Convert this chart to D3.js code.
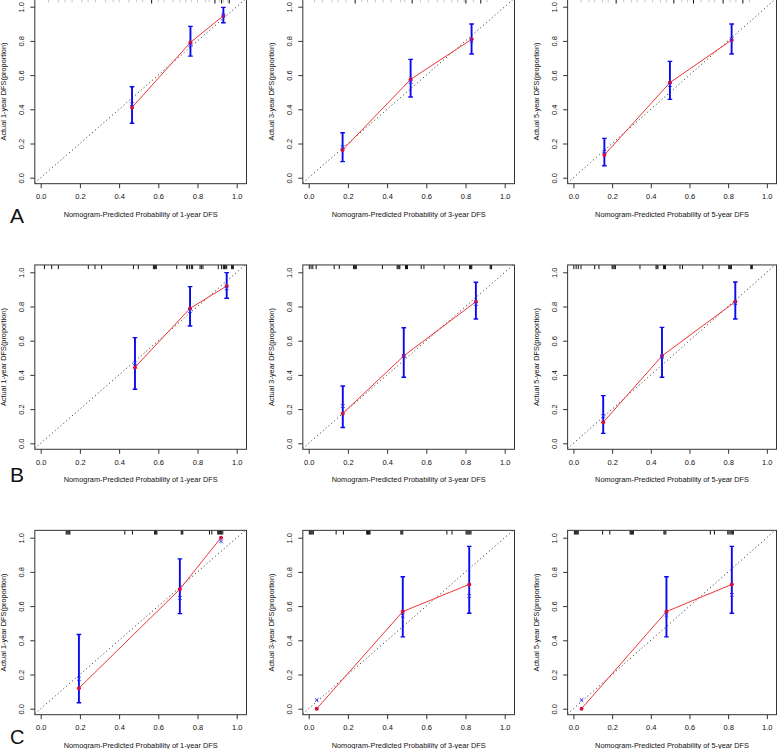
<!DOCTYPE html>
<html>
<head>
<meta charset="utf-8">
<script src="https://cdn.jsdelivr.net/npm/d3@7"></script>
<style>
body { margin: 0; background: #fff; }
svg text { font-family: "Liberation Sans", Arial, sans-serif; fill: #111; }
</style>
</head>
<body>
<div id="chart"></div>
<script>
var years = ["1", "3", "5"];
var rowLabels = ["A", "B", "C"];
var tickValues = [0, 0.2, 0.4, 0.6, 0.8, 1.0];

// predicted / observed (red) / bias-corrected (blue x) / CI
var predA1 = [0.466, 0.764, 0.932], obsA1 = [0.411, 0.791, 0.947], corA1 = [0.430, 0.776, 0.950],
    loA1 = [0.318, 0.711, 0.906], hiA1 = [0.532, 0.885, 0.996];
var predA2 = [0.173, 0.520, 0.831], obsA2 = [0.162, 0.575, 0.809], corA2 = [0.180, 0.560, 0.800],
    loA2 = [0.094, 0.472, 0.723], hiA2 = [0.263, 0.692, 0.899];
var predA3 = [0.160, 0.499, 0.818], obsA3 = [0.133, 0.556, 0.805], corA3 = [0.152, 0.542, 0.809],
    loA3 = [0.070, 0.458, 0.723], hiA3 = [0.230, 0.680, 0.899];
var predB1 = [0.481, 0.762, 0.949], obsB1 = [0.444, 0.789, 0.920], corB1 = [0.468, 0.774, 0.906],
    loB1 = [0.316, 0.686, 0.848], hiB1 = [0.618, 0.916, 0.998];
var predB2 = [0.174, 0.485, 0.853], obsB2 = [0.175, 0.511, 0.828], corB2 = [0.218, 0.511, 0.815],
    loB2 = [0.092, 0.386, 0.727], hiB2 = [0.335, 0.676, 0.942];
var predB3 = [0.154, 0.458, 0.837], obsB3 = [0.123, 0.511, 0.828], corB3 = [0.160, 0.507, 0.819],
    loB3 = [0.058, 0.386, 0.727], hiB3 = [0.279, 0.678, 0.943];
var predC1 = [0.195, 0.710, 0.920], obsC1 = [0.120, 0.699, 1.000], corC1 = [0.175, 0.648, 0.978],
    loC1 = [0.035, 0.556, null], hiC1 = [0.434, 0.876, null];
var predC2 = [0.041, 0.480, 0.819], obsC2 = [0.000, 0.568, 0.727], corC2 = [0.051, 0.544, 0.660],
    loC2 = [null, 0.420, 0.558], hiC2 = [null, 0.772, 0.949];
var predC3 = [0.042, 0.481, 0.819], obsC3 = [0.000, 0.568, 0.727], corC3 = [0.051, 0.548, 0.666],
    loC3 = [null, 0.420, 0.558], hiC3 = [null, 0.772, 0.949];

// rug of predicted values along the top
var rugA1 = [0.566, 0.889, 0.923, 0.962];
var rugA1Light = [0.04, 0.09, 0.124, 0.16, 0.21, 0.242, 0.28, 0.33, 0.37, 0.40, 0.45, 0.49, 0.52, 0.60, 0.63, 0.675, 0.71, 0.74, 0.768, 0.80, 0.84, 0.86, 0.912, 0.932, 0.954];
var rugA2 = [0.237, 0.528, 0.802, 0.878];
var rugA2Light = [0.03, 0.07, 0.12, 0.15, 0.19, 0.27, 0.30, 0.34, 0.38, 0.42, 0.468, 0.49, 0.57, 0.61, 0.656, 0.69, 0.73, 0.76, 0.793, 0.84, 0.91];
var rugA3 = [0.221, 0.519, 0.621, 0.774, 0.876];
var rugA3Light = [0.04, 0.08, 0.11, 0.15, 0.18, 0.26, 0.30, 0.33, 0.37, 0.41, 0.45, 0.48, 0.56, 0.59, 0.66, 0.70, 0.73, 0.81, 0.84, 0.91];
var rugB1 = [0.019, 0.056, 0.090, 0.243, 0.277, 0.311, 0.473, 0.498, 0.575, 0.580, 0.585, 0.590, 0.694,
    0.745, 0.750, 0.760, 0.770, 0.775, 0.813, 0.820, 0.828, 0.906, 0.923, 0.932, 0.938, 0.944, 0.949, 0.974, 0.978, 0.983];
var rugB2 = [0.003, 0.012, 0.021, 0.038, 0.130, 0.156, 0.229, 0.233, 0.238, 0.243, 0.376, 0.451, 0.456, 0.461, 0.465,
    0.494, 0.499, 0.504, 0.574, 0.588, 0.691, 0.769, 0.821, 0.825, 0.829, 0.832, 0.926, 0.930, 0.933];
var rugB3 = [0.002, 0.014, 0.025, 0.039, 0.110, 0.132, 0.200, 0.205, 0.211, 0.217, 0.344, 0.427, 0.432, 0.437,
    0.466, 0.471, 0.476, 0.551, 0.564, 0.669, 0.753, 0.803, 0.808, 0.813, 0.817, 0.917, 0.921, 0.925];
var rugC1 = [0.130, 0.135, 0.140, 0.145, 0.149, 0.429, 0.468, 0.581, 0.585, 0.589, 0.593, 0.717, 0.721, 0.725,
    0.861, 0.873, 0.903, 0.908, 0.913, 0.918, 0.923, 0.929];
var rugC2 = [0.003, 0.008, 0.013, 0.018, 0.024, 0.140, 0.177, 0.296, 0.300, 0.305, 0.309, 0.313, 0.470, 0.475, 0.480,
    0.705, 0.731, 0.803, 0.808, 0.813, 0.818, 0.823, 0.828];
var rugC3 = [0.005, 0.010, 0.015, 0.020, 0.025, 0.151, 0.188, 0.293, 0.297, 0.301, 0.306, 0.310, 0.468, 0.473, 0.478,
    0.708, 0.729, 0.798, 0.804, 0.810, 0.816, 0.822, 0.827];

var panels = [
    {pred: predA1, obs: obsA1, cor: corA1, lo: loA1, hi: hiA1, rug: rugA1, rugLight: rugA1Light},
    {pred: predA2, obs: obsA2, cor: corA2, lo: loA2, hi: hiA2, rug: rugA2, rugLight: rugA2Light},
    {pred: predA3, obs: obsA3, cor: corA3, lo: loA3, hi: hiA3, rug: rugA3, rugLight: rugA3Light},
    {pred: predB1, obs: obsB1, cor: corB1, lo: loB1, hi: hiB1, rug: rugB1, rugLight: []},
    {pred: predB2, obs: obsB2, cor: corB2, lo: loB2, hi: hiB2, rug: rugB2, rugLight: []},
    {pred: predB3, obs: obsB3, cor: corB3, lo: loB3, hi: hiB3, rug: rugB3, rugLight: []},
    {pred: predC1, obs: obsC1, cor: corC1, lo: loC1, hi: hiC1, rug: rugC1, rugLight: []},
    {pred: predC2, obs: obsC2, cor: corC2, lo: loC2, hi: hiC2, rug: rugC2, rugLight: []},
    {pred: predC3, obs: obsC3, cor: corC3, lo: loC3, hi: hiC3, rug: rugC3, rugLight: []}
];

var imgWidth = 778, imgHeight = 749;
// pixel where value 0 sits, per column / row
var colX0 = [40.7, 308.7, 573.5],
    rowY0 = [177.7, 443.3, 708.7];
var pxX = 196, pxY = 171;
var lim = {xmin: -0.03, xmax: 1.05, ymin: -0.035, ymax: 1.043};

var svg = d3.select("#chart").append("svg")
    .attr("width", imgWidth)
    .attr("height", imgHeight);

panels.forEach(function(p, i) {
    var row = Math.floor(i / 3), col = i % 3;
    var x0 = colX0[col], y0 = rowY0[row];
    var x = d3.scaleLinear().domain([lim.xmin, lim.xmax])
        .range([x0 + lim.xmin * pxX, Math.min(x0 + lim.xmax * pxX, imgWidth - 1.5)]);
    var y = d3.scaleLinear().domain([lim.ymin, lim.ymax])
        .range([y0 - lim.ymin * pxY, y0 - lim.ymax * pxY]);
    var left = x.range()[0], right = x.range()[1],
        bottom = y.range()[0], top = y.range()[1];

    var g = svg.append("g");
    var clipId = "clip" + i;
    g.append("clipPath").attr("id", clipId)
        .append("rect")
        .attr("x", left).attr("y", top)
        .attr("width", right - left).attr("height", bottom - top);

    // x axis
    var gx = g.append("g")
        .attr("transform", "translate(0," + bottom + ")")
        .call(d3.axisBottom(x).tickValues(tickValues).tickFormat(d3.format(".1f")).tickSize(4.5).tickPadding(5.8));
    gx.select(".domain").remove();
    gx.selectAll(".tick line").attr("stroke", "#333");
    gx.selectAll(".tick text").attr("font-size", "7.5px").attr("font-family", null);

    // y axis, labels turned like R's las=0
    var gy = g.append("g")
        .attr("transform", "translate(" + left + ",0)")
        .call(d3.axisLeft(y).tickValues(tickValues).tickFormat(d3.format(".1f")).tickSize(4.5));
    gy.select(".domain").remove();
    gy.selectAll(".tick line").attr("stroke", "#333");
    gy.selectAll(".tick text")
        .attr("font-size", "7.5px").attr("font-family", null)
        .attr("x", null).attr("dy", null)
        .attr("text-anchor", "middle")
        .attr("transform", "translate(-10.7,0) rotate(-90)");

    // titles
    g.append("text")
        .attr("x", (left + right) / 2)
        .attr("y", bottom + 33)
        .attr("text-anchor", "middle")
        .attr("font-size", "7.35px")
        .text("Nomogram-Predicted Probability of " + years[col] + "-year DFS");
    g.append("text")
        .attr("transform", "translate(" + (left - 29) + "," + ((top + bottom) / 2) + ") rotate(-90)")
        .attr("text-anchor", "middle")
        .attr("font-size", "7.35px")
        .text("Actual " + years[col] + "-year DFS(proportion)");

    var inner = g.append("g").attr("clip-path", "url(#" + clipId + ")");

    // ideal line
    inner.append("line")
        .attr("x1", x(lim.xmin)).attr("y1", y(lim.xmin))
        .attr("x2", x(lim.ymax + 0.05)).attr("y2", y(lim.ymax + 0.05))
        .attr("stroke", "#222")
        .attr("stroke-width", 1)
        .attr("stroke-dasharray", "1,2.8");

    // rug
    inner.selectAll(".rugl")
        .data(p.rugLight)
        .enter().append("line")
        .attr("x1", function(d) { return x(d); })
        .attr("x2", function(d) { return x(d); })
        .attr("y1", top).attr("y2", top + 3)
        .attr("stroke", "#b5b5b5")
        .attr("stroke-width", 0.8);
    inner.selectAll(".rug")
        .data(p.rug)
        .enter().append("line")
        .attr("x1", function(d) { return x(d); })
        .attr("x2", function(d) { return x(d); })
        .attr("y1", top).attr("y2", top + 4.2)
        .attr("stroke", "#111")
        .attr("stroke-width", 1);

    var pts = p.pred.map(function(d, k) {
        return {x: d, obs: p.obs[k], cor: p.cor[k], lo: p.lo[k], hi: p.hi[k]};
    });
    var bars = pts.filter(function(d) { return d.lo !== null; });

    // error bars
    var eb = inner.selectAll(".eb")
        .data(bars)
        .enter().append("g")
        .attr("stroke", "#0a0aee");
    eb.append("line")
        .attr("x1", function(d) { return x(d.x); })
        .attr("x2", function(d) { return x(d.x); })
        .attr("y1", function(d) { return y(d.lo); })
        .attr("y2", function(d) { return y(d.hi); })
        .attr("stroke-width", 1.9);
    eb.append("line")
        .attr("x1", function(d) { return x(d.x) - 2.3; })
        .attr("x2", function(d) { return x(d.x) + 2.3; })
        .attr("y1", function(d) { return y(d.lo); })
        .attr("y2", function(d) { return y(d.lo); })
        .attr("stroke-width", 1.4);
    eb.append("line")
        .attr("x1", function(d) { return x(d.x) - 2.3; })
        .attr("x2", function(d) { return x(d.x) + 2.3; })
        .attr("y1", function(d) { return y(d.hi); })
        .attr("y2", function(d) { return y(d.hi); })
        .attr("stroke-width", 1.4);

    // observed line
    inner.append("path")
        .datum(pts)
        .attr("fill", "none")
        .attr("stroke", "#f03535")
        .attr("stroke-width", 1)
        .attr("d", d3.line().x(function(d) { return x(d.x); }).y(function(d) { return y(d.obs); }));

    inner.selectAll(".obs")
        .data(pts)
        .enter().append("circle")
        .attr("cx", function(d) { return x(d.x); })
        .attr("cy", function(d) { return y(d.obs); })
        .attr("r", 2)
        .attr("fill", "#d01040");

    // bias corrected
    var xs = 1.8;
    inner.selectAll(".cor")
        .data(pts)
        .enter().append("path")
        .attr("d", function(d) {
            var cx = x(d.x), cy = y(d.cor);
            return "M" + (cx - xs) + "," + (cy - xs) + "L" + (cx + xs) + "," + (cy + xs) +
                "M" + (cx - xs) + "," + (cy + xs) + "L" + (cx + xs) + "," + (cy - xs);
        })
        .attr("stroke", "#2a2aff")
        .attr("stroke-width", 1)
        .attr("fill", "none");

    // frame
    g.append("rect")
        .attr("x", left).attr("y", top)
        .attr("width", right - left).attr("height", bottom - top)
        .attr("fill", "none")
        .attr("stroke", "#333")
        .attr("stroke-width", 1);

    if (col === 0) {
        g.append("text")
            .attr("x", 10)
            .attr("y", bottom + [39.5, 32.5, 29.5][row])
            .attr("font-size", ["21px", "21px", "20px"][row])
            .style("fill", "#111")
            .text(rowLabels[row]);
    }
});
</script>
</body>
</html>
